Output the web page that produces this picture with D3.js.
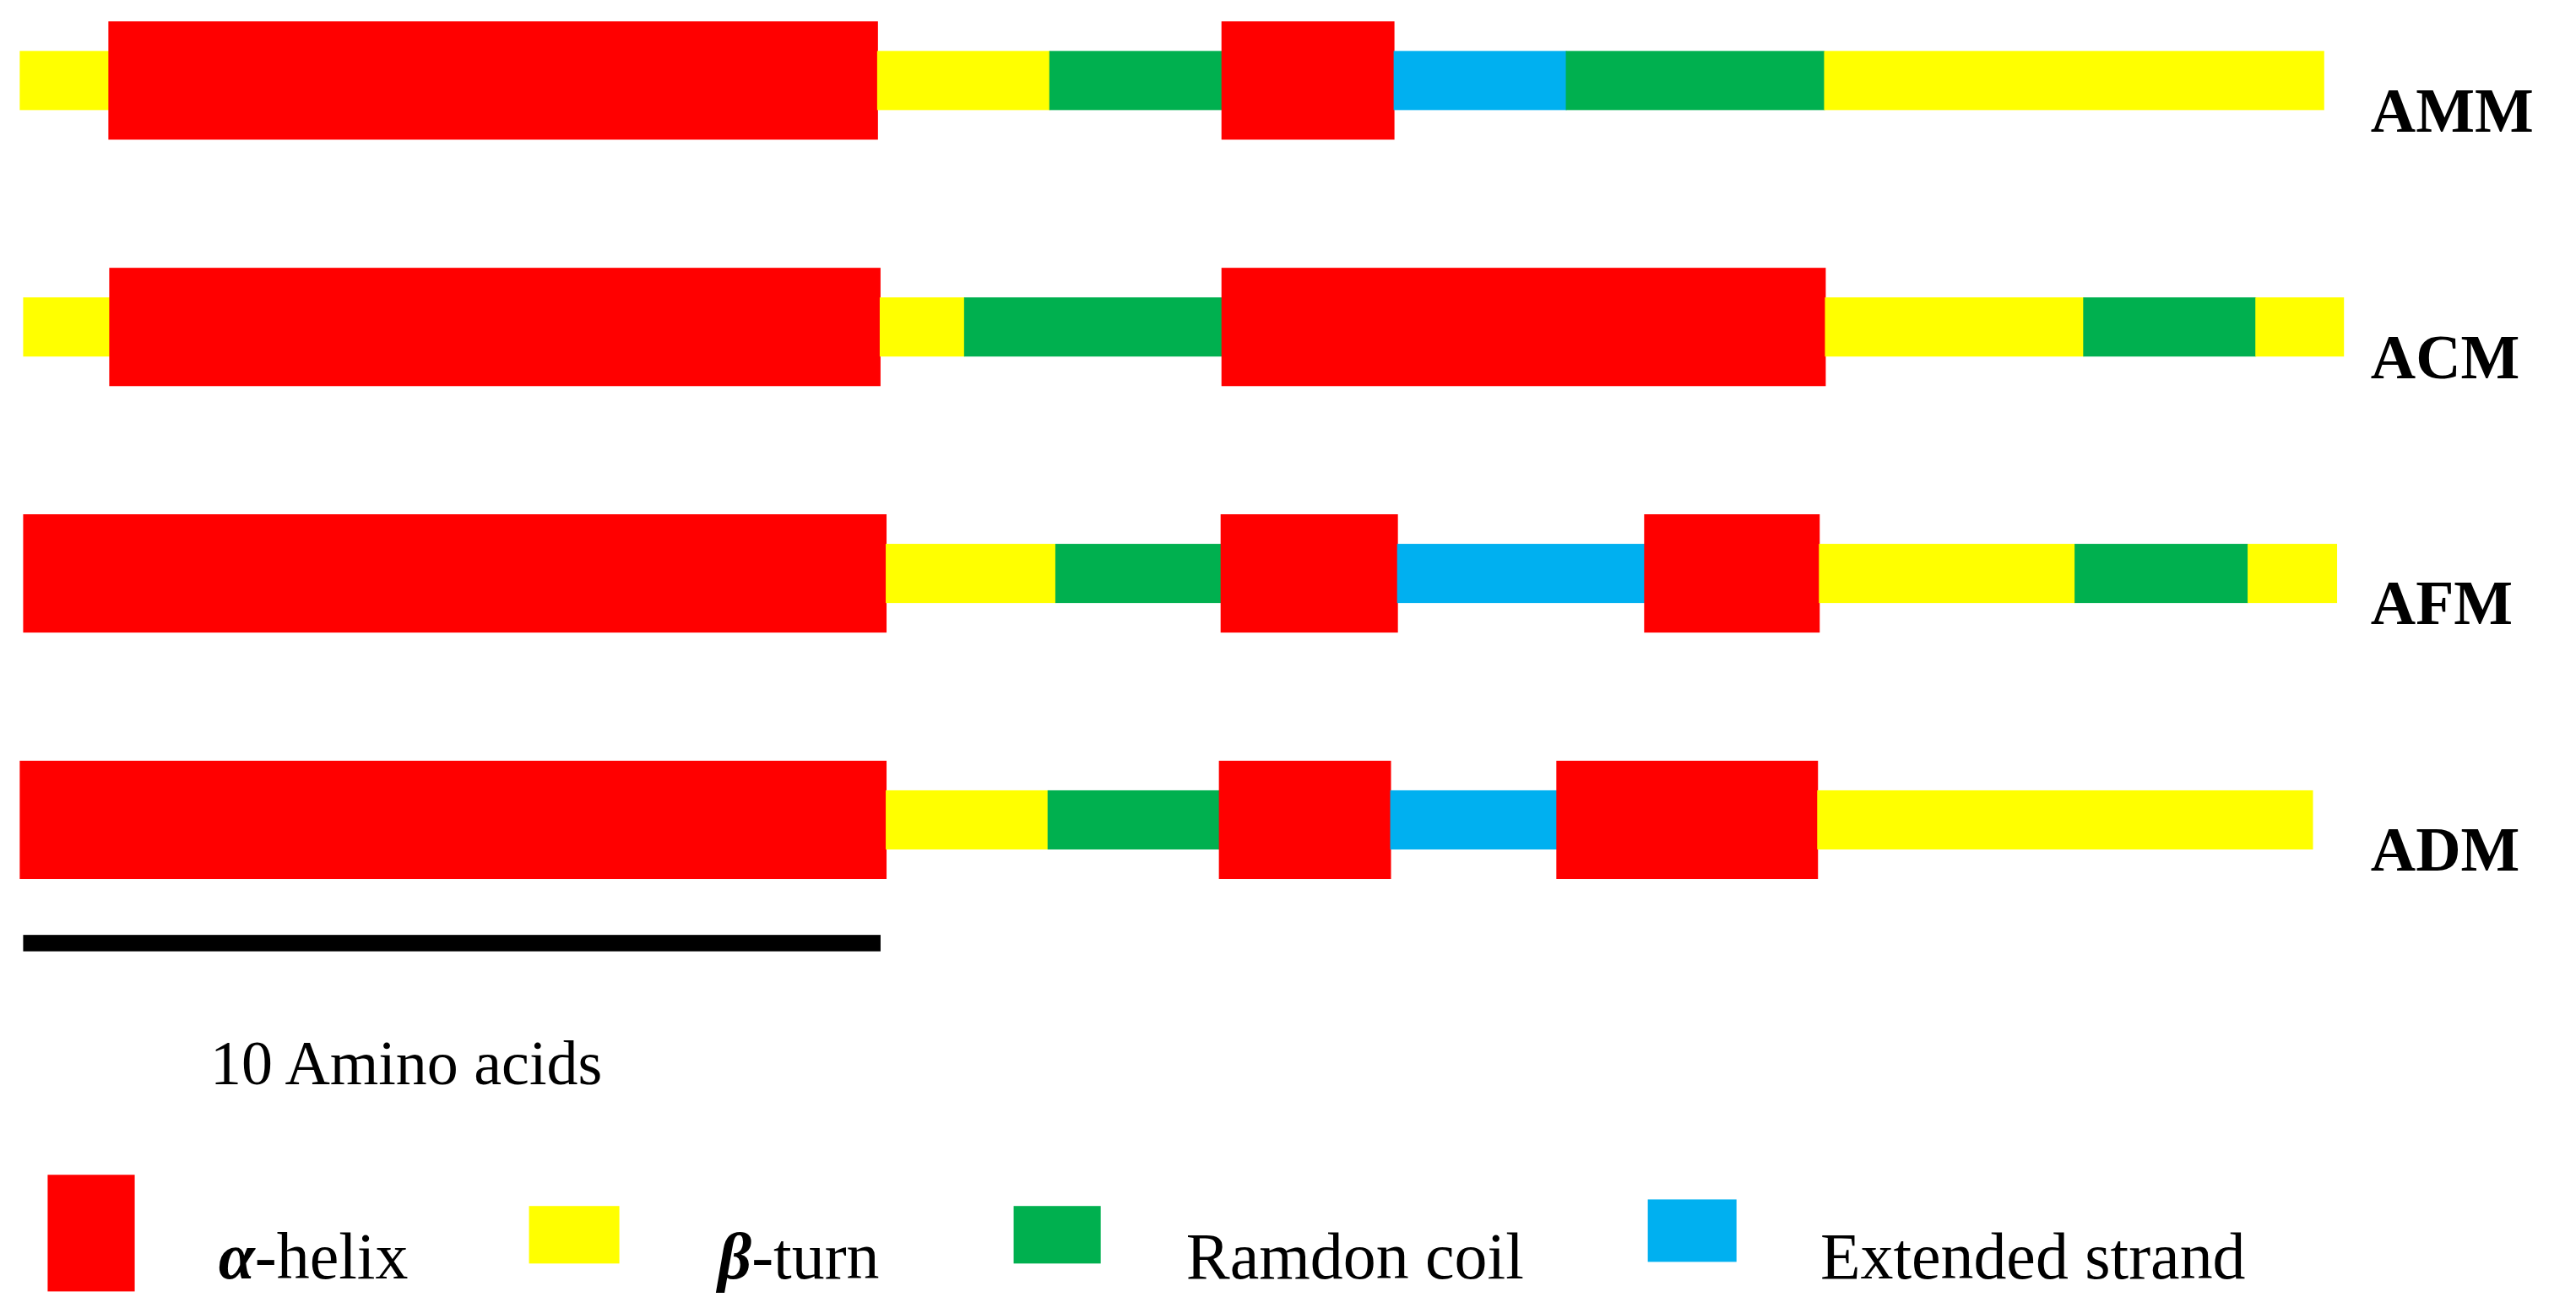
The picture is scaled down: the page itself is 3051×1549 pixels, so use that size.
<!DOCTYPE html><html><head><meta charset="utf-8"><script src="https://cdn.jsdelivr.net/npm/d3@7"></script>
<style>body{margin:0;background:#fff}</style></head><body><svg id="c" width="3051" height="1549"></svg><script>
const proteins=["AMM","ACM","AFM","ADM"];
const starts=[0,0.04,0.04,0];
const segTypes=[
 ["b","a","b","r","a","e","r","b"],
 ["b","a","b","r","a","b","r","b"],
 ["a","b","r","a","e","a","b","r","b"],
 ["a","b","r","a","e","a","b"]];
const segLengths=[
 [1.03,8.93,2.0,2.0,2.0,2.0,3.0,5.8],
 [1.0,8.95,0.98,2.99,7.01,3.0,2.0,1.02],
 [10.02,1.97,1.92,2.05,2.87,2.03,2.97,2.01,1.03],
 [10.06,1.88,1.99,1.99,1.93,3.03,5.75]];
const legendKeys=["a","b","r","e"];
const legendNames=[["α","-helix"],["β","-turn"],["","Ramdon coil"],["","Extended strand"]];
const colors={a:"#ff0000",b:"#ffff00",r:"#00b04f",e:"#00b0f0"};
const k=3051/1568;
const svg=d3.select("#c").append("g").attr("transform",`scale(${k})`);
const x=d3.scaleLinear().domain([0,10]).range([12,536]);
const y=d3.scaleBand().domain(proteins).range([-26,574]);
const font="Liberation Serif, Times New Roman, serif";
proteins.forEach((p,i)=>{
  let pos=starts[i];const cy=y(p)+y.bandwidth()/2;
  const segs=segLengths[i].map((l,j)=>{const s={t:segTypes[i][j],x0:pos,x1:pos+l};pos+=l;return s;});
  svg.selectAll(null).data(segs).enter().append("rect")
   .attr("x",d=>x(d.x0)).attr("width",d=>x(d.x1)-x(d.x0)+0.5)
   .attr("y",d=>d.t==="a"?cy-36:cy-18).attr("height",d=>d.t==="a"?72:36)
   .attr("fill",d=>colors[d.t]);
  svg.append("text").attr("x",1443).attr("y",cy+31).attr("font-family",font).attr("font-weight","bold")
   .attr("font-size",38).text(p);
});
svg.append("rect").attr("x",x(0.04)).attr("width",x(10)-x(0.04)).attr("y",569).attr("height",10).attr("fill","#000");
svg.append("text").attr("x",128).attr("y",660).attr("font-family",font).attr("font-size",38).text("10 Amino acids");
const lx=[[29,82,715,786,133],[322,377,734,769,437],[617,670,734,769,722],[1003,1057,730,768,1108]];
legendKeys.forEach((key,i)=>{
  const b=lx[i];
  svg.append("rect").attr("x",b[0]).attr("width",b[1]-b[0]).attr("y",b[2]).attr("height",b[3]-b[2]).attr("fill",colors[key]);
  const t=svg.append("text").attr("x",b[4]).attr("y",778).attr("font-family",font).attr("font-size",40);
  if(legendNames[i][0]) t.append("tspan").attr("font-weight","bold").attr("font-style","italic").text(legendNames[i][0]);
  t.append("tspan").text(legendNames[i][1]);
});
</script></body></html>
